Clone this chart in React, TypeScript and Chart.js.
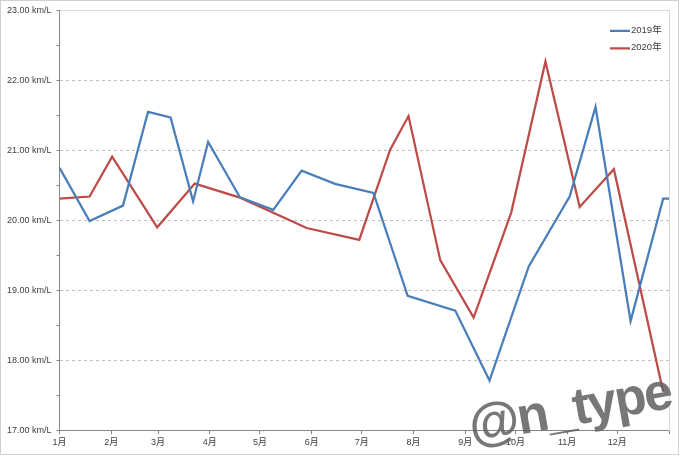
import React, { useEffect, useRef } from "react";
import { Chart, registerables } from "chart.js";

Chart.register(...registerables);

// Day-of-year positions (0 = 1 Jan) and values
const days2019 = [0, 18, 38, 53, 66.5, 80, 89, 108, 128, 145, 165, 188, 208.5, 237, 257.5, 281, 305.5, 321, 342, 361.5, 365];
const vals2019 = [20.75, 19.99, 20.21, 21.55, 21.47, 20.27, 21.12, 20.33, 20.15, 20.71, 20.52, 20.39, 18.92, 18.71, 17.71, 19.34, 20.34, 21.62, 18.56, 20.31, 20.31];

const days2020 = [0, 18, 31.5, 58.5, 81, 108.5, 148, 179.5, 198, 209, 228, 248, 270.5, 291, 311.5, 332, 361.5];
const vals2020 = [20.31, 20.34, 20.91, 19.9, 20.525, 20.32, 19.89, 19.72, 21.01, 21.49, 19.43, 18.61, 20.11, 22.27, 20.19, 20.73, 17.55];

const seriesLabels = ["2019年", "2020年"];
const monthStarts = [0, 31, 59, 90, 120, 151, 181, 212, 243, 273, 304, 334, 365];
const monthLabels = ["1月", "2月", "3月", "4月", "5月", "6月", "7月", "8月", "9月", "10月", "11月", "12月", ""];

const FONT = "'Liberation Sans', 'Noto Sans CJK JP', sans-serif";
const TEXT = "#404040";
const AXIS = "#868686";

const legendPlugin = {
  id: "insideLegend",
  afterDatasetsDraw(chart: any) {
    const { ctx, chartArea } = chart;
    ctx.save();
    ctx.font = `9.5px ${FONT}`;
    ctx.textBaseline = "middle";
    ctx.fillStyle = TEXT;
    chart.data.datasets.forEach((ds: any, i: number) => {
      const y = chartArea.top + 20.5 + i * 17.5;
      const x0 = chartArea.right - 59;
      ctx.strokeStyle = ds.borderColor;
      ctx.lineWidth = 2.25;
      ctx.beginPath();
      ctx.moveTo(x0, y);
      ctx.lineTo(x0 + 20, y);
      ctx.stroke();
      ctx.fillText(ds.label, x0 + 21, y - 1);
    });
    ctx.restore();
  },
};

export default function App() {
  const ref = useRef<HTMLCanvasElement>(null);

  useEffect(() => {
    document.body.style.margin = "0";
    const toPts = (xs: number[], ys: number[]) => xs.map((x, i) => ({ x, y: ys[i] }));
    const chart = new Chart(ref.current!, {
      type: "line",
      data: {
        datasets: [
          {
            label: seriesLabels[0],
            data: toPts(days2019, vals2019),
            borderColor: "#4a7ebb",
            borderWidth: 2.25,
            pointRadius: 0,
            tension: 0,
          },
          {
            label: seriesLabels[1],
            data: toPts(days2020, vals2020),
            borderColor: "#be4b48",
            borderWidth: 2.25,
            pointRadius: 0,
            tension: 0,
          },
        ],
      },
      options: {
        animation: false,
        responsive: false,
        devicePixelRatio: 1,
        layout: { padding: { left: 2, right: 11, top: 7, bottom: 6 } },
        plugins: { legend: { display: false }, tooltip: { enabled: false } },
        scales: {
          x: {
            type: "linear",
            min: 0,
            max: 365,
            afterBuildTicks: (scale: any) => {
              scale.ticks = monthStarts.map((v) => ({ value: v }));
            },
            ticks: {
              autoSkip: false,
              maxRotation: 0,
              padding: 3,
              color: TEXT,
              font: { family: FONT, size: 9 },
              callback: (v: any) => {
                const i = monthStarts.indexOf(Number(v));
                return i >= 0 ? monthLabels[i] : "";
              },
            },
            grid: { drawOnChartArea: false, drawTicks: true, tickLength: 4, tickColor: AXIS },
            border: { color: AXIS, width: 1 },
          },
          x2: {
            type: "linear",
            position: "top",
            min: 0,
            max: 365,
            ticks: { display: false },
            grid: { drawOnChartArea: false, drawTicks: false },
            border: { color: "#d9d9d9", width: 1 },
          },
          y: {
            min: 17,
            max: 23,
            ticks: {
              stepSize: 0.5,
              padding: 5,
              color: TEXT,
              font: { family: FONT, size: 9 },
              callback: (v: any) => (Number.isInteger(Number(v)) ? Number(v).toFixed(2) + " km/L" : ""),
            },
            grid: {
              color: (c: any) => {
                const v = c.tick ? c.tick.value : 0;
                return Number.isInteger(v) && v > 17 && v < 23 ? "#c0c0c0" : "rgba(0,0,0,0)";
              },
              tickColor: AXIS,
              tickLength: 3,
              lineWidth: 1,
            },
            border: { color: AXIS, width: 1, dash: [3, 3] },
          },
          y2: {
            position: "right",
            min: 17,
            max: 23,
            ticks: { display: false },
            grid: { drawOnChartArea: false, drawTicks: false },
            border: { color: "#d9d9d9", width: 1 },
          },
        },
      } as any,
      plugins: [legendPlugin],
    });
    return () => chart.destroy();
  }, []);

  return (
    <div style={{ position: "relative", width: 680, height: 457, background: "#fff", overflow: "hidden" }}>
      <canvas ref={ref} width={680} height={457} style={{ position: "absolute", left: 0, top: 0, width: 680, height: 457 }} />
      <div
        style={{
          position: "absolute",
          left: 0,
          top: 0,
          width: 677,
          height: 453,
          border: "1px solid #d0d0d0",
          pointerEvents: "none",
        }}
      />
      <div
        style={{
          position: "absolute",
          left: 472,
          top: 443 - 44,
          height: 52,
          lineHeight: "52px",
          fontFamily: "'Liberation Sans', Arial, sans-serif",
          fontWeight: 700,
          fontSize: 52,
          letterSpacing: -2,
          whiteSpace: "nowrap",
          color: "rgba(95,95,95,0.85)",
          transform: "rotate(-10deg)",
          transformOrigin: "0 44px",
          pointerEvents: "none",
        }}
      >
        @n_type
      </div>
    </div>
  );
}
